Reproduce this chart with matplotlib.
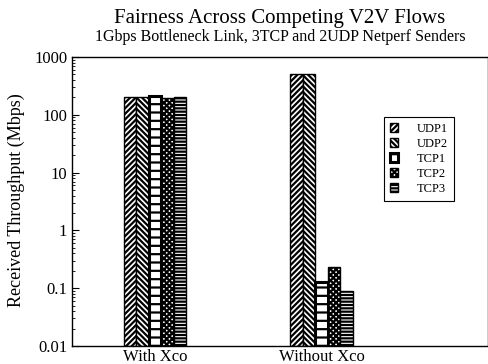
import numpy as np
import matplotlib
matplotlib.use("Agg")
import matplotlib.pyplot as plt
from matplotlib.ticker import LogLocator, FixedFormatter, FixedLocator, NullFormatter

plt.rcParams['font.family'] = ['Liberation Serif', 'DejaVu Serif']
plt.rcParams['hatch.linewidth'] = 1.6

# throughput per flow, Mbps
categories = ['With Xco', 'Without Xco']
flows = ['UDP1', 'UDP2', 'TCP1', 'TCP2', 'TCP3']
with_xco = [200, 200, 210, 195, 205]
without_xco = [500, 500, 0.12, 0.22, 0.078]
ytick_vals = [0.01, 0.1, 1, 10, 100, 1000]
ytick_text = ['0.01', '0.1', '1', '10', '100', '1000']

hatches = ['//////', '\\\\\\\\\\\\', '--', 'xxxxxx', '-----']
edge_lw = [1.0, 1.0, 2.2, 1.0, 1.0]

fig = plt.figure(figsize=(4.89, 3.64), dpi=100)
ax = fig.add_axes([0.1472, 0.0495, 0.8507, 0.794])

x = np.arange(len(categories))
width = 0.075
data = np.array([with_xco, without_xco])
for i, name in enumerate(flows):
    off = (i - 2) * width
    ax.bar(x + off, data[:, i], width, bottom=0.01, color='white',
           edgecolor='black', hatch=hatches[i], linewidth=edge_lw[i],
           label=name)

ax.set_yscale('log')
ax.set_ylim(0.01, 1000)
ax.set_xlim(-0.5, 2.0)
ax.yaxis.set_major_locator(FixedLocator(ytick_vals))
ax.yaxis.set_major_formatter(FixedFormatter(ytick_text))
ax.yaxis.set_minor_locator(LogLocator(base=10, subs=np.arange(2, 10)))
ax.yaxis.set_minor_formatter(NullFormatter())
ax.tick_params(axis='y', which='major', direction='in', length=5, labelsize=12)
ax.tick_params(axis='y', which='minor', direction='in', length=2.5)
ax.set_xticks(x)
ax.set_xticklabels(categories, fontsize=12)
ax.tick_params(axis='x', length=0, pad=2)
ax.set_ylabel('Received Throughput (Mbps)', fontsize=13)
ax.yaxis.set_label_coords(-0.113, 0.505)
for s in ax.spines.values():
    s.set_linewidth(1.0)

leg = ax.legend(loc='upper left', bbox_to_anchor=(0.75, 0.792), fontsize=9,
                handlelength=0.7, handleheight=0.7, handletextpad=1.5,
                labelspacing=0.25, borderpad=0.45, borderaxespad=0,
                fancybox=False, edgecolor='black', framealpha=1)
leg.get_frame().set_linewidth(0.8)

cx = 0.1472 + 0.8507 / 2
fig.text(cx, 0.95, 'Fairness Across Competing V2V Flows', ha='center',
         va='center', fontsize=15)
fig.text(cx, 0.898, '1Gbps Bottleneck Link, 3TCP and 2UDP Netperf Senders',
         ha='center', va='center', fontsize=11.5)

fig.savefig('out.png', dpi=100)
